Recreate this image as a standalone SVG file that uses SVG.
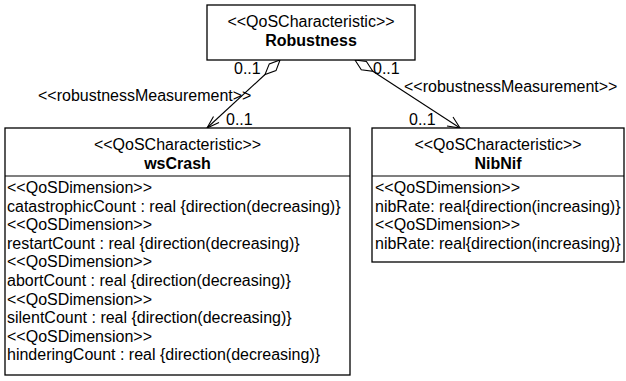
<svg xmlns="http://www.w3.org/2000/svg" width="626" height="381" viewBox="0 0 626 381">
<style>
text{font-family:"Liberation Sans",Arial,Helvetica,sans-serif;font-size:16px;fill:#000}
.c{text-anchor:middle}
.b{font-weight:bold}
.box{fill:#fff;stroke:#000;stroke-width:1.3}
.ln{fill:none;stroke:#000;stroke-width:1.1}
.dia{fill:#fff;stroke:#000;stroke-width:1.1}
</style>
<rect width="626" height="381" fill="#fff"/>
<g id="connectors">
  <polygon class="dia" points="280,60 276,70.6 265,74.5 269.3,63.9"/>
  <line class="ln" x1="265" y1="74.5" x2="207" y2="128"/>
  <polyline class="ln" points="213.5,116.5 207,128 219,122.5"/>
  <polygon class="dia" points="355,60 366.4,61.5 372.8,71.2 361.3,69.7"/>
  <line class="ln" x1="372.8" y1="71.2" x2="460" y2="128"/>
  <polyline class="ln" points="447,126 460,128 453,117"/>
  <text x="234" y="74">0..1</text>
  <text x="38" y="101">&lt;&lt;robustnessMeasurement&gt;&gt;</text>
  <text x="226" y="125">0..1</text>
  <text x="373" y="74">0..1</text>
  <text x="404" y="92">&lt;&lt;robustnessMeasurement&gt;&gt;</text>
  <text x="409" y="125">0..1</text>
</g>
<g id="robustness">
  <rect class="box" x="207" y="5" width="208" height="55"/>
  <text class="c" x="311" y="27">&lt;&lt;QoSCharacteristic&gt;&gt;</text>
  <text class="c b" x="311" y="46">Robustness</text>
</g>
<g id="wsCrash">
  <rect class="box" x="5" y="128" width="345" height="247"/>
  <line class="ln" x1="5" y1="176" x2="350" y2="176"/>
  <text class="c" x="177.5" y="150">&lt;&lt;QoSCharacteristic&gt;&gt;</text>
  <text class="c b" x="177.5" y="169">wsCrash</text>
  <text x="7" y="193">&lt;&lt;QoSDimension&gt;&gt;</text>
  <text x="7" y="211.6">catastrophicCount : real {direction(decreasing)}</text>
  <text x="7" y="230.2">&lt;&lt;QoSDimension&gt;&gt;</text>
  <text x="7" y="248.8">restartCount : real {direction(decreasing)}</text>
  <text x="7" y="267.4">&lt;&lt;QoSDimension&gt;&gt;</text>
  <text x="7" y="286">abortCount : real {direction(decreasing)}</text>
  <text x="7" y="304.6">&lt;&lt;QoSDimension&gt;&gt;</text>
  <text x="7" y="323.2">silentCount : real {direction(decreasing)}</text>
  <text x="7" y="341.8">&lt;&lt;QoSDimension&gt;&gt;</text>
  <text x="7" y="360.4">hinderingCount : real {direction(decreasing)}</text>
</g>
<g id="NibNif">
  <rect class="box" x="372" y="128" width="252" height="134"/>
  <line class="ln" x1="372" y1="176" x2="624" y2="176"/>
  <text class="c" x="498" y="150">&lt;&lt;QoSCharacteristic&gt;&gt;</text>
  <text class="c b" x="498" y="169">NibNif</text>
  <text x="375" y="193">&lt;&lt;QoSDimension&gt;&gt;</text>
  <text x="375" y="211.6">nibRate: real{direction(increasing)}</text>
  <text x="375" y="230.2">&lt;&lt;QoSDimension&gt;&gt;</text>
  <text x="375" y="248.8">nibRate: real{direction(increasing)}</text>
</g>
</svg>
